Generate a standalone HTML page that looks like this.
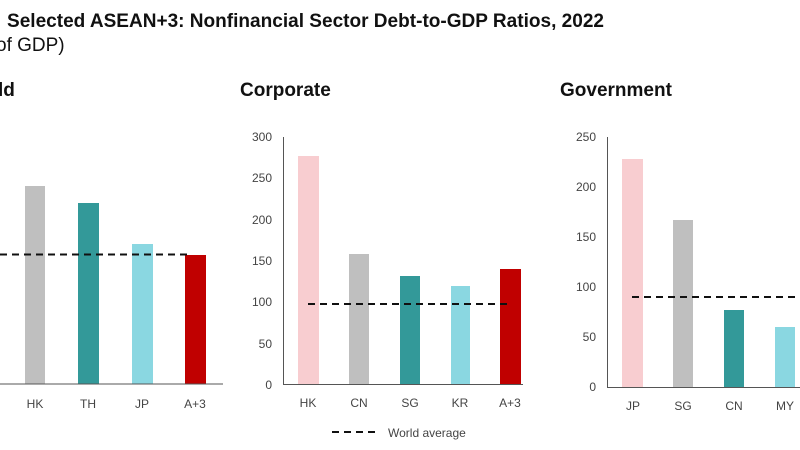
<!DOCTYPE html>
<html><head><meta charset="utf-8"><style>
html,body{margin:0;padding:0;background:#fff;width:800px;height:450px;overflow:hidden}
svg text{font-family:"Liberation Sans",Arial,sans-serif}
</style></head><body>
<svg width="800" height="450" viewBox="0 0 800 450" xmlns="http://www.w3.org/2000/svg">
<text x="7" y="27" font-size="19" font-weight="bold" fill="#111" textLength="597" lengthAdjust="spacingAndGlyphs">Selected ASEAN+3: Nonfinancial Sector Debt-to-GDP Ratios, 2022</text>
<text x="-4" y="51" font-size="19" fill="#111">of GDP)</text>
<text x="-2" y="96" font-size="19" font-weight="bold" fill="#111">ld</text>
<text x="240" y="96" font-size="19" font-weight="bold" fill="#111">Corporate</text>
<text x="560" y="96" font-size="19" font-weight="bold" fill="#111">Government</text>

<rect x="25" y="186" width="20" height="198" fill="#bfbfbf"/>
<rect x="78" y="203" width="21" height="181" fill="#339999"/>
<rect x="132" y="244" width="21" height="140" fill="#8ad7e1"/>
<rect x="185" y="255" width="21" height="129" fill="#c00000"/>
<line x1="0" y1="384" x2="223" y2="384" stroke="#555" stroke-width="1"/>
<line x1="0" y1="254.5" x2="188" y2="254.5" stroke="#111" stroke-width="2" stroke-dasharray="7,5"/>
<g font-size="12" fill="#444" text-anchor="middle">
<text x="35" y="408">HK</text><text x="88" y="408">TH</text><text x="142" y="408">JP</text><text x="195" y="408">A+3</text></g>

<rect x="298" y="156" width="21" height="228" fill="#f8cdd0"/>
<rect x="349" y="254" width="20" height="130" fill="#bfbfbf"/>
<rect x="400" y="276" width="20" height="108" fill="#339999"/>
<rect x="451" y="286" width="19" height="98" fill="#8ad7e1"/>
<rect x="500" y="269" width="21" height="115" fill="#c00000"/>
<line x1="283.5" y1="137" x2="283.5" y2="385" stroke="#555"/>
<line x1="283" y1="384.5" x2="523" y2="384.5" stroke="#555"/>
<line x1="308" y1="304" x2="512" y2="304" stroke="#111" stroke-width="2" stroke-dasharray="7,5"/>
<g font-size="12" fill="#444" text-anchor="end">
<text x="272" y="141">300</text><text x="272" y="182">250</text><text x="272" y="224">200</text><text x="272" y="265">150</text><text x="272" y="306">100</text><text x="272" y="348">50</text><text x="272" y="389">0</text>
</g>
<g font-size="12" fill="#444" text-anchor="middle">
<text x="308" y="407">HK</text><text x="359" y="407">CN</text><text x="410" y="407">SG</text><text x="460" y="407">KR</text><text x="510" y="407">A+3</text></g>
<line x1="332" y1="432" x2="378" y2="432" stroke="#111" stroke-width="2" stroke-dasharray="7,5"/>
<text x="388" y="437" font-size="12" fill="#444">World average</text>

<rect x="622" y="159" width="21" height="228" fill="#f8cdd0"/>
<rect x="673" y="220" width="20" height="167" fill="#bfbfbf"/>
<rect x="724" y="310" width="20" height="77" fill="#339999"/>
<rect x="775" y="327" width="20" height="60" fill="#8ad7e1"/>
<line x1="607.5" y1="137" x2="607.5" y2="388" stroke="#555"/>
<line x1="607" y1="387.5" x2="800" y2="387.5" stroke="#555"/>
<line x1="632" y1="297" x2="800" y2="297" stroke="#111" stroke-width="2" stroke-dasharray="7,5"/>
<g font-size="12" fill="#444" text-anchor="end">
<text x="596" y="141">250</text><text x="596" y="191">200</text><text x="596" y="241">150</text><text x="596" y="291">100</text><text x="596" y="341">50</text><text x="596" y="391">0</text></g>
<g font-size="12" fill="#444" text-anchor="middle">
<text x="633" y="410">JP</text><text x="683" y="410">SG</text><text x="734" y="410">CN</text><text x="785" y="410">MY</text></g>
</svg>
</body></html>
